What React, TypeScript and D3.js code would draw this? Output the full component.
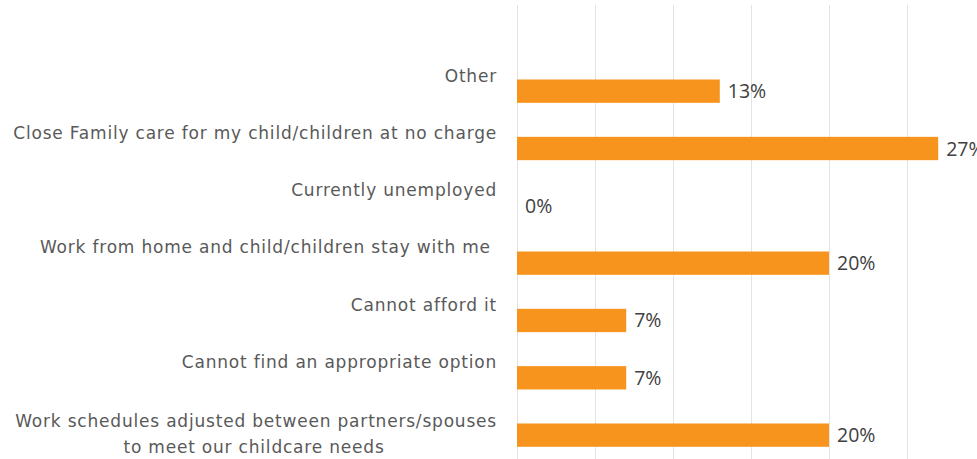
import React from "react";
import * as d3 from "d3";

const categories: string[][] = [
  ["Other"],
  ["Close Family care for my child/children at no charge"],
  ["Currently unemployed"],
  ["Work from home and child/children stay with me "],
  ["Cannot afford it"],
  ["Cannot find an appropriate option"],
  ["Work schedules adjusted between partners/spouses", "to meet our childcare needs"],
];
const values: number[] = [13, 27, 0, 20, 7, 7, 20];
const gridTicks: number[] = [0, 5, 10, 15, 20, 25, 30];

const W = 977;
const H = 459;
const VAL_FONT = "'Open Sans', 'DejaVu Sans', sans-serif";
const CAT_FONT = "'DejaVu Sans', sans-serif";

export default function App() {
  const keys = categories.map((c) => c.join(" "));
  const x = d3.scaleLinear().domain([0, 30]).range([517, 985]);
  const y = d3
    .scaleBand<string>()
    .domain(keys)
    .range([79.5, 446.8])
    .paddingInner(0.593)
    .paddingOuter(0);

  return (
    <svg
      width={W}
      height={H}
      style={{ position: "absolute", left: 0, top: 0, background: "#fff" }}
    >
      {gridTicks.map((t) => (
        <line
          key={t}
          x1={Math.round(x(t)) + 0.5}
          x2={Math.round(x(t)) + 0.5}
          y1={5}
          y2={H}
          stroke="#e3e3e3"
          strokeWidth={1}
        />
      ))}
      {keys.map((k, i) => {
        const top = y(k)!;
        const bw = y.bandwidth();
        return (
          <g key={k}>
            {values[i] > 0 && (
              <rect
                x={x(0)}
                y={top}
                width={x(values[i]) - x(0)}
                height={bw}
                fill="#F7941D"
              />
            )}
            <text
              x={x(values[i]) + 8}
              y={top + bw / 2}
              dy="0.36em"
              fontFamily={VAL_FONT}
              fontSize={19.5}
              fill="#404040"
            >
              {values[i] + "%"}
            </text>
            {categories[i].map((line, j) => (
              <text
                key={j}
                x={j === 0 ? 497 : 254}
                y={top + (categories[i].length === 1 ? 2 : 4) + j * 26}
                textAnchor={j === 0 ? "end" : "middle"}
                fontFamily={CAT_FONT}
                fontSize={17}
                letterSpacing={0.8}
                fill="#595959"
                style={{ whiteSpace: "pre" }}
              >
                {line}
              </text>
            ))}
          </g>
        );
      })}
    </svg>
  );
}
